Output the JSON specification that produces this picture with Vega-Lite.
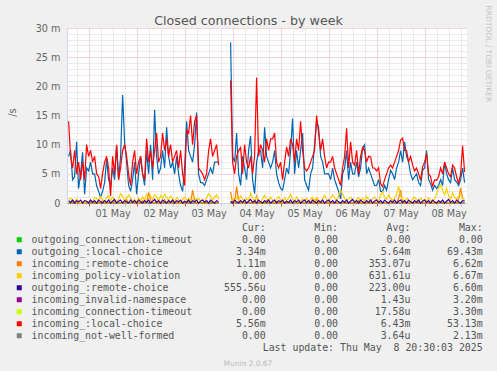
{
"$schema":"https://vega.github.io/schema/vega-lite/v6.json",
"width":400,"height":175,
"autosize":{"type":"none"},
"padding":{"left":67,"top":28,"right":30,"bottom":168},
"background":"#F0F0F0",
"config":{"view":{"fill":"white","stroke":null}},
"title":{"text":"Closed connections - by week","font":"DejaVu Sans","fontSize":12.7,"fontWeight":"normal","color":"#555555","anchor":"middle","frame":"group","dx":-18.5,"dy":35.5,"offset":3.3,"baseline":"alphabetic"},
"datasets":{
"series":[
{"t":"2025-04-30T14:00","b":8,"r":14,"o":0,"y":0.6,"p":0.4},
{"t":"2025-04-30T15:00","b":9,"r":8,"o":0,"y":0.8,"p":0.1},
{"t":"2025-04-30T16:00","b":4,"r":6,"o":0.3,"y":0.5,"p":0.5},
{"t":"2025-04-30T17:00","b":4.5,"r":9,"o":0,"y":0.2,"p":0},
{"t":"2025-04-30T18:00","b":10.5,"r":5,"o":0,"y":0.7,"p":0.4},
{"t":"2025-04-30T19:00","b":2.5,"r":7,"o":0,"y":0.3,"p":0.2},
{"t":"2025-04-30T20:00","b":5,"r":4,"o":0,"y":0,"p":0.5},
{"t":"2025-04-30T21:00","b":8.7,"r":7,"o":0,"y":0.2,"p":0},
{"t":"2025-04-30T22:00","b":1.5,"r":4,"o":0,"y":0,"p":0.4},
{"t":"2025-04-30T23:00","b":6,"r":10,"o":0,"y":0.3,"p":0.3},
{"t":"2025-05-01T00:00","b":5.5,"r":8,"o":0,"y":0.1,"p":0},
{"t":"2025-05-01T01:00","b":7,"r":9,"o":0.4,"y":0.5,"p":0.5},
{"t":"2025-05-01T02:00","b":5,"r":7,"o":0,"y":0.2,"p":0.1},
{"t":"2025-05-01T03:00","b":5,"r":8,"o":0,"y":0.9,"p":0.4},
{"t":"2025-05-01T04:00","b":3,"r":5,"o":0,"y":0.8,"p":0},
{"t":"2025-05-01T05:00","b":2,"r":4.5,"o":0,"y":0.3,"p":0.5},
{"t":"2025-05-01T06:00","b":1,"r":2.5,"o":0,"y":1.1,"p":0.2},
{"t":"2025-05-01T07:00","b":2,"r":5,"o":0.5,"y":0.6,"p":0},
{"t":"2025-05-01T08:00","b":3.5,"r":7,"o":0,"y":0.2,"p":0.4},
{"t":"2025-05-01T09:00","b":7.5,"r":8,"o":0,"y":0.9,"p":0.1},
{"t":"2025-05-01T10:00","b":4,"r":6,"o":0,"y":1.3,"p":0.5},
{"t":"2025-05-01T11:00","b":3,"r":1.2,"o":0,"y":0.4,"p":0},
{"t":"2025-05-01T12:00","b":6,"r":8,"o":0,"y":1,"p":0.3},
{"t":"2025-05-01T13:00","b":4,"r":5,"o":0.3,"y":0.5,"p":0.6},
{"t":"2025-05-01T14:00","b":9.8,"r":10,"o":0,"y":0.2,"p":0},
{"t":"2025-05-01T15:00","b":4,"r":4,"o":0,"y":0.6,"p":0.3},
{"t":"2025-05-01T16:00","b":8,"r":6,"o":0,"y":1.6,"p":0.5},
{"t":"2025-05-01T17:00","b":18.5,"r":9,"o":0,"y":1.2,"p":0},
{"t":"2025-05-01T18:00","b":10.5,"r":10,"o":0,"y":0.4,"p":0.4},
{"t":"2025-05-01T19:00","b":7,"r":8,"o":0.6,"y":0.8,"p":0.2},
{"t":"2025-05-01T20:00","b":3,"r":5,"o":0,"y":1.4,"p":0},
{"t":"2025-05-01T21:00","b":2,"r":3,"o":0,"y":0.9,"p":0.5},
{"t":"2025-05-01T22:00","b":4,"r":7,"o":0,"y":0.3,"p":0.1},
{"t":"2025-05-01T23:00","b":7,"r":9,"o":0,"y":0.6,"p":0.4},
{"t":"2025-05-02T00:00","b":1.5,"r":5,"o":0,"y":0.2,"p":0},
{"t":"2025-05-02T01:00","b":5,"r":7,"o":0,"y":0.8,"p":0.5},
{"t":"2025-05-02T02:00","b":8,"r":8,"o":0,"y":0.4,"p":0.2},
{"t":"2025-05-02T03:00","b":5,"r":5,"o":0.4,"y":1,"p":0},
{"t":"2025-05-02T04:00","b":3,"r":4,"o":0,"y":0.5,"p":0.4},
{"t":"2025-05-02T05:00","b":9,"r":11,"o":0,"y":1.5,"p":0.1},
{"t":"2025-05-02T06:00","b":5,"r":7,"o":1.8,"y":0.9,"p":0.5},
{"t":"2025-05-02T07:00","b":10,"r":9,"o":0.5,"y":1.2,"p":0},
{"t":"2025-05-02T08:00","b":4,"r":6,"o":0,"y":0.6,"p":0.3},
{"t":"2025-05-02T09:00","b":16,"r":9,"o":0,"y":1.4,"p":0.6},
{"t":"2025-05-02T10:00","b":8,"r":12,"o":0.3,"y":1,"p":0.1},
{"t":"2025-05-02T11:00","b":5,"r":7,"o":0,"y":0.4,"p":0.4},
{"t":"2025-05-02T12:00","b":6,"r":8,"o":0,"y":1.3,"p":0},
{"t":"2025-05-02T13:00","b":9,"r":12,"o":0,"y":0.8,"p":0.5},
{"t":"2025-05-02T14:00","b":6,"r":9,"o":0.6,"y":1.5,"p":0.2},
{"t":"2025-05-02T15:00","b":13,"r":11,"o":0,"y":1,"p":0},
{"t":"2025-05-02T16:00","b":8,"r":8,"o":0,"y":0.5,"p":0.4},
{"t":"2025-05-02T17:00","b":6,"r":10,"o":0,"y":1.2,"p":0.1},
{"t":"2025-05-02T18:00","b":7,"r":7,"o":0.3,"y":0.7,"p":0.5},
{"t":"2025-05-02T19:00","b":5,"r":8,"o":0,"y":0.3,"p":0},
{"t":"2025-05-02T20:00","b":8,"r":9,"o":0,"y":0.9,"p":0.4},
{"t":"2025-05-02T21:00","b":5,"r":6,"o":0,"y":0.5,"p":0.2},
{"t":"2025-05-02T22:00","b":3,"r":9,"o":0,"y":0.2,"p":0.5},
{"t":"2025-05-02T23:00","b":2,"r":5,"o":0,"y":0.6,"p":0},
{"t":"2025-05-03T00:00","b":6,"r":3,"o":0,"y":1,"p":0.3},
{"t":"2025-05-03T01:00","b":14,"r":12.5,"o":0,"y":0.4,"p":0.1},
{"t":"2025-05-03T02:00","b":9,"r":12,"o":0.4,"y":0.8,"p":0.5},
{"t":"2025-05-03T03:00","b":8,"r":15,"o":0,"y":0.3,"p":0},
{"t":"2025-05-03T04:00","b":7,"r":10,"o":2.2,"y":0.6,"p":0.4},
{"t":"2025-05-03T05:00","b":10,"r":14,"o":0.5,"y":1,"p":0.2},
{"t":"2025-05-03T06:00","b":15.5,"r":15,"o":0,"y":0.4,"p":0.5},
{"t":"2025-05-03T07:00","b":5,"r":6,"o":0,"y":0.8,"p":0},
{"t":"2025-05-03T08:00","b":3.5,"r":5.5,"o":0,"y":0.3,"p":0.3},
{"t":"2025-05-03T09:00","b":3.5,"r":5,"o":0,"y":0.6,"p":0.5},
{"t":"2025-05-03T10:00","b":3,"r":4,"o":0,"y":0.2,"p":0.1},
{"t":"2025-05-03T11:00","b":4,"r":5,"o":0,"y":0.9,"p":0.4},
{"t":"2025-05-03T12:00","b":5,"r":9,"o":0,"y":1.6,"p":0},
{"t":"2025-05-03T13:00","b":6,"r":11,"o":0.3,"y":1.2,"p":0.5},
{"t":"2025-05-03T14:00","b":5,"r":8,"o":0,"y":0.5,"p":0.2},
{"t":"2025-05-03T15:00","b":7,"r":9,"o":0,"y":1,"p":0},
{"t":"2025-05-03T16:00","b":7,"r":10,"o":0,"y":1.4,"p":0.4},
{"t":"2025-05-03T17:00","b":7,"r":6.5,"o":0,"y":0.6,"p":0.2},
{"t":"2025-05-03T20:00","b":null,"r":null,"o":null,"y":null,"p":null},
{"t":"2025-05-03T23:00","b":27.5,"r":21,"o":1.9,"y":0.5,"p":0.3},
{"t":"2025-05-04T00:00","b":8,"r":7,"o":0,"y":0.8,"p":0},
{"t":"2025-05-04T01:00","b":7,"r":5,"o":0,"y":0.3,"p":0.5},
{"t":"2025-05-04T02:00","b":12,"r":8,"o":2.8,"y":1,"p":0.2},
{"t":"2025-05-04T03:00","b":5,"r":9,"o":0.4,"y":0.5,"p":0},
{"t":"2025-05-04T04:00","b":3,"r":9.5,"o":0,"y":1.2,"p":0.4},
{"t":"2025-05-04T05:00","b":8,"r":5,"o":0,"y":0.6,"p":0.1},
{"t":"2025-05-04T06:00","b":6,"r":10,"o":0,"y":0.2,"p":0.5},
{"t":"2025-05-04T07:00","b":4,"r":7,"o":0,"y":0.8,"p":0},
{"t":"2025-05-04T08:00","b":9,"r":6,"o":0,"y":0.4,"p":0.3},
{"t":"2025-05-04T09:00","b":11.5,"r":8,"o":0,"y":1.7,"p":0.6},
{"t":"2025-05-04T10:00","b":4,"r":5,"o":0,"y":0.9,"p":0.1},
{"t":"2025-05-04T11:00","b":1.6,"r":8,"o":0,"y":0.4,"p":0.4},
{"t":"2025-05-04T12:00","b":7,"r":21.5,"o":1.2,"y":1,"p":0},
{"t":"2025-05-04T13:00","b":9,"r":8,"o":0,"y":0.5,"p":0.5},
{"t":"2025-05-04T14:00","b":9,"r":10,"o":0,"y":0.2,"p":0.2},
{"t":"2025-05-04T15:00","b":6,"r":9,"o":0,"y":0.7,"p":0},
{"t":"2025-05-04T16:00","b":13,"r":7,"o":0,"y":1.3,"p":0.4},
{"t":"2025-05-04T17:00","b":8,"r":11,"o":0.4,"y":0.8,"p":0.1},
{"t":"2025-05-04T18:00","b":7,"r":9,"o":0,"y":0.4,"p":0.5},
{"t":"2025-05-04T19:00","b":6,"r":11,"o":0,"y":1,"p":0},
{"t":"2025-05-04T20:00","b":7,"r":11,"o":0,"y":0.5,"p":0.3},
{"t":"2025-05-04T21:00","b":9,"r":12,"o":0,"y":0.2,"p":0.5},
{"t":"2025-05-04T22:00","b":5,"r":7,"o":0.3,"y":0.6,"p":0},
{"t":"2025-05-04T23:00","b":3.5,"r":6,"o":0,"y":1.1,"p":0.4},
{"t":"2025-05-05T00:00","b":2.5,"r":7,"o":0,"y":0.5,"p":0.2},
{"t":"2025-05-05T01:00","b":2.2,"r":4,"o":0,"y":0.2,"p":0.5},
{"t":"2025-05-05T02:00","b":4,"r":7,"o":0,"y":0.9,"p":0},
{"t":"2025-05-05T03:00","b":6,"r":9.6,"o":0,"y":0.4,"p":0.3},
{"t":"2025-05-05T04:00","b":5,"r":8,"o":0,"y":0.8,"p":0.1},
{"t":"2025-05-05T05:00","b":9,"r":11,"o":0,"y":1.5,"p":0.5},
{"t":"2025-05-05T06:00","b":14.5,"r":10,"o":0,"y":0.6,"p":0},
{"t":"2025-05-05T07:00","b":5,"r":7,"o":0.4,"y":0.3,"p":0.4},
{"t":"2025-05-05T08:00","b":9,"r":11,"o":0,"y":1,"p":0.2},
{"t":"2025-05-05T09:00","b":6,"r":9,"o":0,"y":0.5,"p":0.5},
{"t":"2025-05-05T10:00","b":9,"r":14,"o":0,"y":0.2,"p":0},
{"t":"2025-05-05T11:00","b":12,"r":9,"o":0,"y":0.7,"p":0.3},
{"t":"2025-05-05T12:00","b":4,"r":6,"o":0,"y":0.4,"p":0.5},
{"t":"2025-05-05T13:00","b":3,"r":5.5,"o":0,"y":0.8,"p":0.1},
{"t":"2025-05-05T14:00","b":2.2,"r":6,"o":0,"y":0.3,"p":0.4},
{"t":"2025-05-05T15:00","b":5,"r":7,"o":0,"y":0.6,"p":0},
{"t":"2025-05-05T16:00","b":6,"r":8,"o":0.5,"y":1,"p":0.5},
{"t":"2025-05-05T17:00","b":10,"r":9,"o":0,"y":0.4,"p":0.2},
{"t":"2025-05-05T18:00","b":14,"r":15,"o":0.6,"y":0.9,"p":0},
{"t":"2025-05-05T19:00","b":13,"r":12,"o":0,"y":0.5,"p":0.4},
{"t":"2025-05-05T20:00","b":8,"r":9,"o":0,"y":0.2,"p":0.1},
{"t":"2025-05-05T21:00","b":7,"r":11,"o":0,"y":0.7,"p":0.5},
{"t":"2025-05-05T22:00","b":5,"r":8,"o":0,"y":1.3,"p":0},
{"t":"2025-05-05T23:00","b":5,"r":6,"o":0,"y":0.6,"p":0.3},
{"t":"2025-05-06T00:00","b":5,"r":7,"o":0,"y":0.3,"p":0.5},
{"t":"2025-05-06T01:00","b":4,"r":7,"o":0,"y":0.8,"p":0.1},
{"t":"2025-05-06T02:00","b":6,"r":8,"o":0,"y":1.4,"p":0.4},
{"t":"2025-05-06T03:00","b":4,"r":6,"o":0,"y":0.9,"p":0},
{"t":"2025-05-06T04:00","b":3,"r":5,"o":0,"y":0.4,"p":0.5},
{"t":"2025-05-06T05:00","b":2,"r":4,"o":0,"y":1.2,"p":0.2},
{"t":"2025-05-06T06:00","b":0.7,"r":3,"o":0,"y":2.2,"p":0},
{"t":"2025-05-06T07:00","b":5,"r":6,"o":0,"y":1.6,"p":0.4},
{"t":"2025-05-06T08:00","b":6,"r":8,"o":0,"y":0.8,"p":0.1},
{"t":"2025-05-06T09:00","b":9,"r":12.8,"o":0,"y":0.4,"p":0.5},
{"t":"2025-05-06T10:00","b":4,"r":6,"o":0,"y":0.7,"p":0},
{"t":"2025-05-06T11:00","b":7,"r":10.5,"o":0,"y":1,"p":0.3},
{"t":"2025-05-06T12:00","b":5,"r":7,"o":0,"y":0.5,"p":0.6},
{"t":"2025-05-06T13:00","b":5,"r":6.5,"o":0,"y":0.2,"p":0.1},
{"t":"2025-05-06T14:00","b":7,"r":9,"o":0,"y":0.6,"p":0.4},
{"t":"2025-05-06T15:00","b":4.5,"r":5,"o":0.4,"y":0.9,"p":0},
{"t":"2025-05-06T16:00","b":6,"r":8,"o":0,"y":0.4,"p":0.5},
{"t":"2025-05-06T17:00","b":9.4,"r":9.5,"o":0,"y":0.8,"p":0.2},
{"t":"2025-05-06T18:00","b":10,"r":9,"o":0,"y":0.3,"p":0},
{"t":"2025-05-06T19:00","b":5,"r":7,"o":0,"y":1.1,"p":0.4},
{"t":"2025-05-06T20:00","b":6,"r":8,"o":0,"y":0.6,"p":0.1},
{"t":"2025-05-06T21:00","b":5,"r":7.9,"o":0,"y":0.3,"p":0.5},
{"t":"2025-05-06T22:00","b":4,"r":6,"o":0,"y":0.7,"p":0},
{"t":"2025-05-06T23:00","b":3,"r":6,"o":0,"y":1,"p":0.3},
{"t":"2025-05-07T00:00","b":3,"r":5.5,"o":0,"y":0.5,"p":0.5},
{"t":"2025-05-07T01:00","b":4,"r":6,"o":0,"y":0.2,"p":0.1},
{"t":"2025-05-07T02:00","b":2,"r":3.3,"o":0,"y":1.4,"p":0.4},
{"t":"2025-05-07T03:00","b":2,"r":2.8,"o":0,"y":1.9,"p":0},
{"t":"2025-05-07T04:00","b":3,"r":4,"o":0,"y":1,"p":0.5},
{"t":"2025-05-07T05:00","b":2.2,"r":5,"o":0,"y":0.6,"p":0.2},
{"t":"2025-05-07T06:00","b":4,"r":6,"o":0,"y":1.4,"p":0},
{"t":"2025-05-07T07:00","b":5.6,"r":6.5,"o":0,"y":0.8,"p":0.4},
{"t":"2025-05-07T08:00","b":5,"r":6,"o":0,"y":0.4,"p":0.1},
{"t":"2025-05-07T09:00","b":4,"r":7,"o":0,"y":0.9,"p":0.5},
{"t":"2025-05-07T10:00","b":6,"r":8,"o":0,"y":1.4,"p":0},
{"t":"2025-05-07T11:00","b":7,"r":9,"o":0.8,"y":2.8,"p":0.3},
{"t":"2025-05-07T12:00","b":9,"r":10.8,"o":2.2,"y":1.2,"p":0.5},
{"t":"2025-05-07T13:00","b":7,"r":11.1,"o":0,"y":0.6,"p":0.1},
{"t":"2025-05-07T14:00","b":10.5,"r":9,"o":0,"y":0.3,"p":0.4},
{"t":"2025-05-07T15:00","b":8,"r":9,"o":0,"y":0.8,"p":0},
{"t":"2025-05-07T16:00","b":7,"r":7,"o":0,"y":0.5,"p":0.5},
{"t":"2025-05-07T17:00","b":5,"r":8,"o":0,"y":0.2,"p":0.2},
{"t":"2025-05-07T18:00","b":4,"r":6.5,"o":0,"y":0.7,"p":0},
{"t":"2025-05-07T19:00","b":4.5,"r":5.5,"o":0,"y":1,"p":0.4},
{"t":"2025-05-07T20:00","b":5,"r":6,"o":0,"y":0.5,"p":0.1},
{"t":"2025-05-07T21:00","b":3.5,"r":5,"o":0,"y":0.3,"p":0.5},
{"t":"2025-05-07T22:00","b":3,"r":3.9,"o":0,"y":0.8,"p":0},
{"t":"2025-05-07T23:00","b":5.6,"r":6.2,"o":0,"y":0.4,"p":0.3},
{"t":"2025-05-08T00:00","b":6,"r":7,"o":0,"y":0.6,"p":0.5},
{"t":"2025-05-08T01:00","b":9,"r":8.5,"o":0,"y":0.3,"p":0.1},
{"t":"2025-05-08T02:00","b":4,"r":5,"o":0,"y":0.9,"p":0.4},
{"t":"2025-05-08T03:00","b":3.3,"r":4.5,"o":0,"y":0.5,"p":0},
{"t":"2025-05-08T04:00","b":2.2,"r":2.8,"o":0,"y":0.2,"p":0.5},
{"t":"2025-05-08T05:00","b":3,"r":4,"o":0,"y":0.7,"p":0.2},
{"t":"2025-05-08T06:00","b":2.5,"r":3.9,"o":0,"y":1.6,"p":0},
{"t":"2025-05-08T07:00","b":3,"r":4.5,"o":0,"y":2.6,"p":0.4},
{"t":"2025-05-08T08:00","b":4,"r":6,"o":0,"y":3.1,"p":0.1},
{"t":"2025-05-08T09:00","b":3,"r":5,"o":0,"y":2.2,"p":0.5},
{"t":"2025-05-08T10:00","b":7,"r":7,"o":0,"y":1.4,"p":0},
{"t":"2025-05-08T11:00","b":5,"r":6,"o":0,"y":2.5,"p":0.3},
{"t":"2025-05-08T12:00","b":4,"r":5,"o":0,"y":1.2,"p":0.6},
{"t":"2025-05-08T13:00","b":3.5,"r":4.5,"o":0,"y":0.6,"p":0.1},
{"t":"2025-05-08T14:00","b":6,"r":6.5,"o":0,"y":1.8,"p":0.4},
{"t":"2025-05-08T15:00","b":4,"r":6,"o":0,"y":1,"p":0},
{"t":"2025-05-08T16:00","b":3.6,"r":4.5,"o":0,"y":0.5,"p":0.5},
{"t":"2025-05-08T17:00","b":3,"r":3.3,"o":0.5,"y":1.2,"p":0.2},
{"t":"2025-05-08T18:00","b":4,"r":5,"o":2.6,"y":1.5,"p":0},
{"t":"2025-05-08T19:00","b":6,"r":9.8,"o":0.8,"y":0.8,"p":0.4},
{"t":"2025-05-08T20:00","b":3.5,"r":5.3,"o":0.4,"y":0.4,"p":0.3}
],
"zero":[
{"t":"2025-04-30T14:00","s":"g","v":0},{"t":"2025-05-03T17:00","s":"g","v":0},{"t":"2025-05-03T20:00","s":"g","v":null},{"t":"2025-05-03T23:00","s":"g","v":0},{"t":"2025-05-08T20:00","s":"g","v":0},
{"t":"2025-04-30T14:00","s":"m","v":0},{"t":"2025-05-03T17:00","s":"m","v":0},{"t":"2025-05-03T20:00","s":"m","v":null},{"t":"2025-05-03T23:00","s":"m","v":0},{"t":"2025-05-08T20:00","s":"m","v":0},
{"t":"2025-04-30T14:00","s":"l","v":0},{"t":"2025-05-03T17:00","s":"l","v":0},{"t":"2025-05-03T20:00","s":"l","v":null},{"t":"2025-05-03T23:00","s":"l","v":0},{"t":"2025-05-08T20:00","s":"l","v":0},
{"t":"2025-04-30T14:00","s":"k","v":0},{"t":"2025-05-03T17:00","s":"k","v":0},{"t":"2025-05-03T20:00","s":"k","v":null},{"t":"2025-05-03T23:00","s":"k","v":0},{"t":"2025-05-08T20:00","s":"k","v":0}
],
"stats":[
{"row":"hdr","col":"cur","txt":"Cur:\u00a0\u00a0"},{"row":"hdr","col":"min","txt":"Min:\u00a0\u00a0"},{"row":"hdr","col":"avg","txt":"Avg:\u00a0\u00a0"},{"row":"hdr","col":"max","txt":"Max:\u00a0\u00a0"},
{"row":"g","col":"cur","txt":"0.00\u00a0"},{"row":"g","col":"min","txt":"0.00\u00a0"},{"row":"g","col":"avg","txt":"0.00\u00a0"},{"row":"g","col":"max","txt":"0.00\u00a0"},
{"row":"b","col":"cur","txt":"3.34m"},{"row":"b","col":"min","txt":"0.00\u00a0"},{"row":"b","col":"avg","txt":"5.64m"},{"row":"b","col":"max","txt":"69.43m"},
{"row":"o","col":"cur","txt":"1.11m"},{"row":"o","col":"min","txt":"0.00\u00a0"},{"row":"o","col":"avg","txt":"353.07u"},{"row":"o","col":"max","txt":"6.62m"},
{"row":"y","col":"cur","txt":"0.00\u00a0"},{"row":"y","col":"min","txt":"0.00\u00a0"},{"row":"y","col":"avg","txt":"631.61u"},{"row":"y","col":"max","txt":"6.67m"},
{"row":"p","col":"cur","txt":"555.56u"},{"row":"p","col":"min","txt":"0.00\u00a0"},{"row":"p","col":"avg","txt":"223.00u"},{"row":"p","col":"max","txt":"6.60m"},
{"row":"m","col":"cur","txt":"0.00\u00a0"},{"row":"m","col":"min","txt":"0.00\u00a0"},{"row":"m","col":"avg","txt":"1.43u"},{"row":"m","col":"max","txt":"3.20m"},
{"row":"l","col":"cur","txt":"0.00\u00a0"},{"row":"l","col":"min","txt":"0.00\u00a0"},{"row":"l","col":"avg","txt":"17.58u"},{"row":"l","col":"max","txt":"3.30m"},
{"row":"r","col":"cur","txt":"5.56m"},{"row":"r","col":"min","txt":"0.00\u00a0"},{"row":"r","col":"avg","txt":"6.43m"},{"row":"r","col":"max","txt":"53.13m"},
{"row":"k","col":"cur","txt":"0.00\u00a0"},{"row":"k","col":"min","txt":"0.00\u00a0"},{"row":"k","col":"avg","txt":"3.64u"},{"row":"k","col":"max","txt":"2.13m"},
{"row":"upd","col":"max","txt":"Last update: Thu May \u00a08 20:30:03 2025"}
]
},
"layer":[
{
"encoding":{
"x":{"field":"t","type":"temporal",
"scale":{"domain":[{"year":2025,"month":4,"date":30,"hours":13,"minutes":12},{"year":2025,"month":5,"date":8,"hours":21,"minutes":12}]},
"axis":{"title":null,
"values":[{"year":2025,"month":4,"date":30,"hours":18},{"year":2025,"month":5,"date":1,"hours":0},{"year":2025,"month":5,"date":1,"hours":6},{"year":2025,"month":5,"date":1,"hours":12},{"year":2025,"month":5,"date":1,"hours":18},{"year":2025,"month":5,"date":2,"hours":0},{"year":2025,"month":5,"date":2,"hours":6},{"year":2025,"month":5,"date":2,"hours":12},{"year":2025,"month":5,"date":2,"hours":18},{"year":2025,"month":5,"date":3,"hours":0},{"year":2025,"month":5,"date":3,"hours":6},{"year":2025,"month":5,"date":3,"hours":12},{"year":2025,"month":5,"date":3,"hours":18},{"year":2025,"month":5,"date":4,"hours":0},{"year":2025,"month":5,"date":4,"hours":6},{"year":2025,"month":5,"date":4,"hours":12},{"year":2025,"month":5,"date":4,"hours":18},{"year":2025,"month":5,"date":5,"hours":0},{"year":2025,"month":5,"date":5,"hours":6},{"year":2025,"month":5,"date":5,"hours":12},{"year":2025,"month":5,"date":5,"hours":18},{"year":2025,"month":5,"date":6,"hours":0},{"year":2025,"month":5,"date":6,"hours":6},{"year":2025,"month":5,"date":6,"hours":12},{"year":2025,"month":5,"date":6,"hours":18},{"year":2025,"month":5,"date":7,"hours":0},{"year":2025,"month":5,"date":7,"hours":6},{"year":2025,"month":5,"date":7,"hours":12},{"year":2025,"month":5,"date":7,"hours":18},{"year":2025,"month":5,"date":8,"hours":0},{"year":2025,"month":5,"date":8,"hours":6},{"year":2025,"month":5,"date":8,"hours":12},{"year":2025,"month":5,"date":8,"hours":18}],
"labelExpr":"hours(datum.value) === 12 ? timeFormat(datum.value, '%d %b') : ''",
"labelOverlap":false,"labelFlush":false,"labelFont":"DejaVu Sans","labelFontSize":9.7,"labelColor":"#666666","labelPadding":2,"labelBaseline":"top",
"ticks":true,"tickSize":3,"tickColor":{"condition":{"test":"hours(datum.value) === 0","value":"#de5050"},"value":"#c8c8c8"},
"grid":true,"gridDash":[1,1],"gridColor":{"condition":{"test":"hours(datum.value) === 0","value":"#f0a8a8"},"value":"#d6d6d6"},
"domainColor":"#CFD6F8"}},
"y":{"field":"v","type":"quantitative",
"scale":{"domain":[0,30],"nice":false},
"axis":{"title":"/s","titleFont":"DejaVu Sans","titleFontSize":10,"titleFontWeight":"normal","titleColor":"#666666","titleX":-55,"titleY":84,"titleAngle":270,"titleAlign":"center","titleBaseline":"middle",
"values":[0,1,2,3,4,5,6,7,8,9,10,11,12,13,14,15,16,17,18,19,20,21,22,23,24,25,26,27,28,29,30],
"labelExpr":"datum.value % 5 === 0 ? (datum.value === 0 ? '0\u00a0\u00a0' : datum.value + ' m') : ''",
"labelOverlap":false,"labelFont":"DejaVu Sans","labelFontSize":9.7,"labelColor":"#666666","labelPadding":7,"ticks":false,
"grid":true,"gridDash":[1,1],"gridColor":{"condition":{"test":"datum.value % 5 === 0","value":"#f0a8a8"},"value":"#d6d6d6"},
"domainColor":"#CFD6F8"}},
"color":{"field":"s","type":"nominal",
"scale":{"domain":["g","b","o","y","p","m","l","r","k"],"range":["#00CC00","#0066B3","#FF8000","#FFCC00","#330099","#990099","#CCFF00","#FF0000","#808080"]},
"legend":{"orient":"none","legendX":-52.7,"legendY":205.7,"title":null,"symbolType":"square","symbolSize":6.25,"symbolStrokeWidth":2.5,"labelFont":"DejaVu Sans Mono","labelFontSize":9.9,"labelColor":"#555555","labelOffset":7.4,"labelLimit":400,"clipHeight":12,"rowPadding":0,"padding":0,"direction":"vertical","columns":1,
"labelExpr":"datum.label === 'g' ? 'outgoing_connection-timeout' : datum.label === 'b' ? 'outgoing_:local-choice' : datum.label === 'o' ? 'incoming_:remote-choice' : datum.label === 'y' ? 'incoming_policy-violation' : datum.label === 'p' ? 'outgoing_:remote-choice' : datum.label === 'm' ? 'incoming_invalid-namespace' : datum.label === 'l' ? 'incoming_connection-timeout' : datum.label === 'r' ? 'incoming_:local-choice' : 'incoming_not-well-formed'"}}
},
"layer":[
{"data":{"name":"zero"},"mark":{"type":"line","strokeWidth":1.2}},
{"data":{"name":"series"},"transform":[{"fold":["b","o","y","p","r"],"as":["s","v"]}],"mark":{"type":"line","strokeWidth":1.2}}
]
},
{
"data":{"name":"stats"},
"mark":{"type":"text","align":"right","baseline":"middle","font":"DejaVu Sans Mono","fontSize":9.9,"color":"#555555"},
"encoding":{
"x":{"field":"col","type":"nominal","scale":{"type":"point","domain":["cur","min","avg","max"],"range":[198.7,415.7],"padding":0},
"axis":{"orient":"bottom","title":"Munin 2.0.67","labels":false,"ticks":false,"domain":false,"grid":false,"titleX":180.5,"titleY":160,"titleFont":"DejaVu Sans","titleFontSize":7.4,"titleFontWeight":"normal","titleColor":"#bbbbbb","titleBaseline":"middle","titleAlign":"center"}},
"y":{"field":"row","type":"nominal","scale":{"type":"point","domain":["hdr","g","b","o","y","p","m","l","r","k","upd"],"range":[199.7,319.7],"padding":0},
"axis":{"orient":"right","title":"RRDTOOL / TOBI OETIKER","labels":false,"ticks":false,"domain":false,"grid":false,"titleX":20.5,"titleY":-23,"titleAngle":90,"titleAlign":"left","titleBaseline":"middle","titleFont":"DejaVu Sans","titleFontSize":7.5,"titleFontWeight":"normal","titleColor":"#c4c4c4"}},
"text":{"field":"txt"}
}
}
],
"resolve":{"scale":{"x":"independent","y":"independent"}}
}
